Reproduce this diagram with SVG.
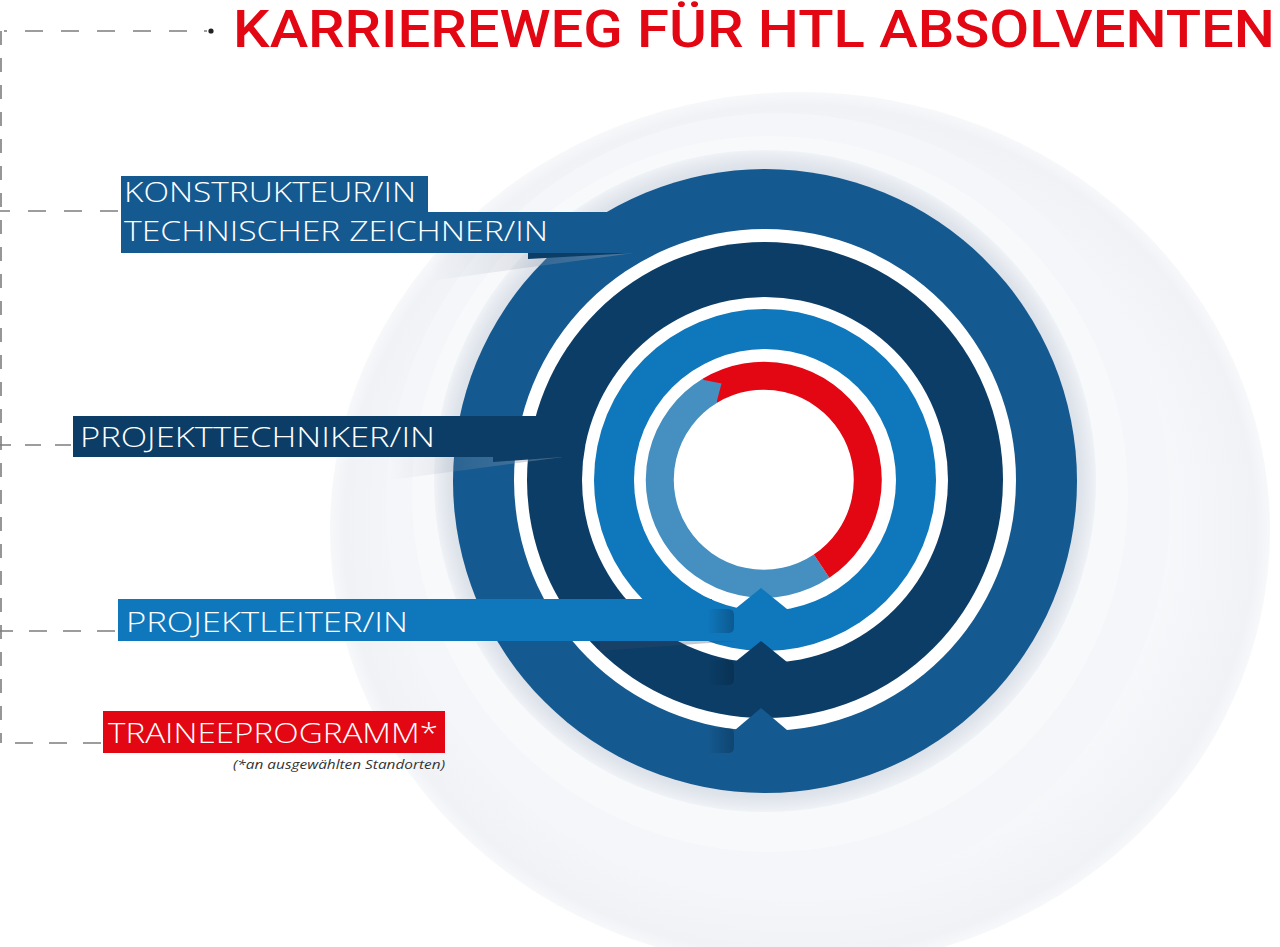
<svg xmlns="http://www.w3.org/2000/svg" width="1280" height="947" viewBox="0 0 1280 947">
<defs>
<style>
.lbl{font-family:"Open Sans","Lato","Liberation Sans",sans-serif;font-weight:300;font-size:28px;fill:#ffffff}
.dash{fill:none;stroke:#7d7d7d;stroke-width:1.6}
</style>
<linearGradient id="fold" x1="0" y1="0" x2="1" y2="0">
<stop offset="0" stop-color="#041a30" stop-opacity="0"/>
<stop offset="1" stop-color="#041a30" stop-opacity="0.32"/>
</linearGradient>
<linearGradient id="shade" x1="0" y1="0" x2="1" y2="0">
<stop offset="0" stop-color="#8d96a8" stop-opacity="0"/>
<stop offset="1" stop-color="#8d96a8" stop-opacity="0.5"/>
</linearGradient>
<radialGradient id="halo" cx="0.5" cy="0.5" r="0.5">
<stop offset="0.9" stop-color="#d3d9e4"/>
<stop offset="0.96" stop-color="#e0e5ec"/>
<stop offset="1" stop-color="#eff2f6"/>
</radialGradient>
<radialGradient id="glow" cx="0.5" cy="0.5" r="0.5">
<stop offset="0.7" stop-color="#f9fafc"/>
<stop offset="0.97" stop-color="#f0f2f6"/>
<stop offset="1" stop-color="#f7f8fa"/>
</radialGradient>
</defs>
<rect width="1280" height="947" fill="#ffffff"/>

<g id="title">
<text x="233" y="47" font-family="Roboto,'DejaVu Sans',sans-serif" font-weight="500" font-size="52" fill="#e30613" textLength="1042" lengthAdjust="spacingAndGlyphs">KARRIEREWEG FÜR HTL ABSOLVENTEN</text>
</g>

<g id="connectors">
<path class="dash" d="M207 31 H0" stroke-dasharray="3 17 18 18 18 18 18 18 18 18 18 18"/>
<circle cx="211" cy="31" r="2.6" fill="#222"/>
<path class="dash" d="M1 31 V743" stroke-dasharray="14 13"/>
<path class="dash" d="M118 211 H0" stroke-dasharray="18 18"/>
<path class="dash" d="M71 445 H0" stroke-dasharray="16 14"/>
<path class="dash" d="M115 631 H0" stroke-dasharray="18 16"/>
<path class="dash" d="M101 743 H0" stroke-dasharray="18 16"/>
</g>

<g id="circle-diagram">
<ellipse cx="800" cy="530" rx="470" ry="438" fill="url(#glow)"/>
<circle cx="778" cy="505" r="392" fill="#f4f6f9"/>
<circle cx="770" cy="494" r="358" fill="#f8f9fb"/>
<circle cx="765" cy="481" r="331" fill="url(#halo)"/>
<circle cx="765" cy="481" r="312" fill="#14598f"/>
<circle cx="765" cy="480" r="251" fill="#ffffff"/>
<circle cx="765" cy="480" r="238" fill="#0b3d66"/>
<circle cx="765" cy="480" r="183" fill="#ffffff"/>
<circle cx="765" cy="480" r="171" fill="#0f77bc"/>
<circle cx="765" cy="480" r="131" fill="#ffffff"/>
<path d="M821.6 566.2 A104 104 0 1 1 709.9 390.8" fill="none" stroke="#4690c1" stroke-width="28"/>
<path d="M709.9 390.8 A104 104 0 0 1 821.6 566.2" fill="none" stroke="#e30613" stroke-width="28"/>
<polygon points="701.5,379.5 721.5,383.5 716.5,402.5" fill="#4690c1"/>
</g>

<g id="label-konstrukteur">
<polygon points="430,281 634,253 430,253" fill="url(#shade)"/>
<polygon points="528,253 528,259 634,253" fill="#0b3d66"/>
<rect x="121" y="176" width="307" height="37" fill="#14598f"/>
<rect x="121" y="212" width="519" height="41" fill="#14598f"/>
<text class="lbl" x="124" y="202" textLength="292" lengthAdjust="spacingAndGlyphs">KONSTRUKTEUR/IN</text>
<text class="lbl" x="124" y="241" textLength="424" lengthAdjust="spacingAndGlyphs">TECHNISCHER ZEICHNER/IN</text>
</g>

<g id="label-projekttechniker">
<polygon points="390,480 563,457 390,457" fill="url(#shade)"/>
<polygon points="493,457 493,462 563,457" fill="#0b3d66"/>
<rect x="73" y="416" width="475" height="41" fill="#0b3d66"/>
<text class="lbl" x="80" y="447" textLength="355" lengthAdjust="spacingAndGlyphs">PROJEKTTECHNIKER/IN</text>
</g>

<g id="label-projektleiter">
<polygon points="600,651 736,641 600,641" fill="#3a4a66" fill-opacity="0.3"/>
<rect x="118" y="599" width="594" height="42" fill="#0f77bc"/>
<text class="lbl" x="126" y="632" textLength="282" lengthAdjust="spacingAndGlyphs">PROJEKTLEITER/IN</text>
</g>

<g id="arrows">
<polygon points="761,588 735,609 735,625 787,625 787,609" fill="#0f77bc"/>
<polygon points="761,641 735,662 735,680 787,680 787,662" fill="#0b3d66"/>
<polygon points="761,708 735,730 735,750 787,750 787,730" fill="#14598f"/>
<path d="M708 609 H728 Q734 609 734 615 V627 Q734 633 728 633 H708 Z" fill="url(#fold)"/>
<path d="M708 660 H728 Q734 660 734 666 V679 Q734 685 728 685 H708 Z" fill="url(#fold)"/>
<path d="M708 728 H728 Q734 728 734 734 V747 Q734 753 728 753 H708 Z" fill="url(#fold)"/>
</g>

<g id="label-trainee">
<rect x="103" y="711" width="342" height="42" fill="#e30613"/>
<text class="lbl" x="108" y="743" textLength="330" lengthAdjust="spacingAndGlyphs">TRAINEEPROGRAMM*</text>
<text x="445" y="769" text-anchor="end" font-family="'Open Sans','Liberation Sans',sans-serif" font-style="italic" font-size="13" fill="#333333" textLength="212" lengthAdjust="spacingAndGlyphs">(*an ausgewählten Standorten)</text>
</g>
</svg>
